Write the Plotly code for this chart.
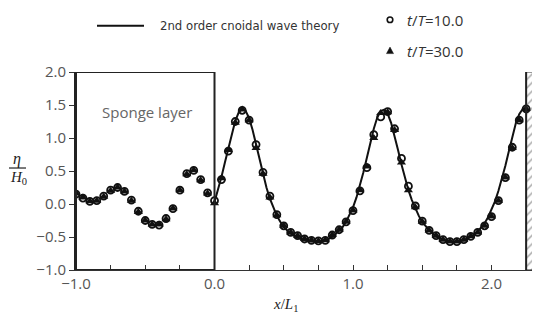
import plotly.graph_objects as go

# ---------------- data ----------------
x_obs = [-1.00, -0.95, -0.90, -0.85, -0.80, -0.75, -0.70, -0.65, -0.60, -0.55,
         -0.50, -0.45, -0.40, -0.35, -0.30, -0.25, -0.20, -0.15, -0.10, -0.05,
         0.00, 0.05, 0.10, 0.15, 0.20, 0.25, 0.30, 0.35, 0.40, 0.45,
         0.50, 0.55, 0.60, 0.65, 0.70, 0.75, 0.80, 0.85, 0.90, 0.95,
         1.00, 1.05, 1.10, 1.15, 1.20, 1.25, 1.30, 1.35, 1.40, 1.45,
         1.50, 1.55, 1.60, 1.65, 1.70, 1.75, 1.80, 1.85, 1.90, 1.95,
         2.00, 2.05, 2.10, 2.15, 2.20, 2.25]

eta_t10 = [0.15, 0.09, 0.04, 0.05, 0.12, 0.21, 0.25, 0.19, 0.06, -0.11,
           -0.25, -0.31, -0.32, -0.22, -0.07, 0.21, 0.46, 0.51, 0.37, 0.17,
           0.05, 0.37, 0.80, 1.25, 1.42, 1.27, 0.90, 0.48, 0.12, -0.16,
           -0.33, -0.43, -0.48, -0.53, -0.55, -0.56, -0.55, -0.47, -0.39, -0.27,
           -0.10, 0.20, 0.55, 1.05, 1.32, 1.40, 1.14, 0.69, 0.27, -0.03,
           -0.26, -0.40, -0.48, -0.54, -0.57, -0.57, -0.54, -0.49, -0.43, -0.33,
           -0.19, 0.05, 0.40, 0.86, 1.27, 1.44]

eta_t30 = [0.16, 0.10, 0.04, 0.05, 0.11, 0.20, 0.25, 0.19, 0.05, -0.12,
           -0.25, -0.31, -0.31, -0.23, -0.07, 0.21, 0.45, 0.51, 0.36, 0.16,
           0.01, 0.39, 0.82, 1.23, 1.43, 1.27, 0.85, 0.46, 0.10, -0.17,
           -0.33, -0.43, -0.48, -0.53, -0.55, -0.56, -0.55, -0.47, -0.39, -0.27,
           -0.10, 0.21, 0.57, 1.00, 1.38, 1.39, 1.12, 0.63, 0.21, -0.05,
           -0.27, -0.40, -0.48, -0.54, -0.57, -0.57, -0.54, -0.49, -0.43, -0.33,
           -0.19, 0.05, 0.40, 0.85, 1.27, 1.44]

x_theory = [0.000, 0.025, 0.050, 0.075, 0.100, 0.125, 0.150, 0.175, 0.200, 0.225,
            0.250, 0.275, 0.300, 0.325, 0.350, 0.375, 0.400, 0.425, 0.450, 0.475,
            0.500, 0.550, 0.600, 0.650, 0.700, 0.750, 0.800, 0.850, 0.900, 0.925,
            0.950, 0.975, 1.000, 1.025, 1.050, 1.075, 1.100, 1.125, 1.150, 1.175,
            1.200, 1.225, 1.250, 1.275, 1.300, 1.325, 1.350, 1.375, 1.400, 1.425,
            1.450, 1.475, 1.500, 1.525, 1.550, 1.600, 1.650, 1.700, 1.750, 1.800,
            1.850, 1.900, 1.925, 1.950, 1.975, 2.000, 2.025, 2.050, 2.075, 2.100,
            2.125, 2.150, 2.175, 2.200, 2.225, 2.250]
eta_theory = [0.03, 0.21, 0.41, 0.63, 0.85, 1.07, 1.26, 1.39, 1.44, 1.41,
              1.30, 1.12, 0.90, 0.67, 0.45, 0.25, 0.08, -0.06, -0.18, -0.27,
              -0.35, -0.45, -0.51, -0.55, -0.57, -0.57, -0.55, -0.50, -0.41, -0.35,
              -0.27, -0.17, -0.05, 0.10, 0.28, 0.48, 0.70, 0.93, 1.14, 1.31,
              1.41, 1.43, 1.37, 1.23, 1.04, 0.82, 0.60, 0.39, 0.21, 0.06,
              -0.07, -0.18, -0.27, -0.34, -0.40, -0.49, -0.54, -0.57, -0.57, -0.55,
              -0.50, -0.42, -0.36, -0.29, -0.20, -0.09, 0.04, 0.20, 0.38, 0.58,
              0.80, 1.02, 1.22, 1.36, 1.44, 1.46]

x_ticks = [-1.0, 0.0, 1.0, 2.0]
y_ticks = [-1.0, -0.5, 0.0, 0.5, 1.0, 1.5, 2.0]

sponge_x = [-1.0, 0.0]
wall_x = 2.25
x_range = [-1.0, 2.35]
y_range = [-1.0, 2.0]

# ---------------- figure ----------------
fig = go.Figure()

# wall (hatched)
fig.add_trace(go.Scatter(
    x=[wall_x, x_range[1], x_range[1], wall_x, wall_x],
    y=[y_range[0], y_range[0], y_range[1], y_range[1], y_range[0]],
    mode="lines", fill="toself", fillcolor="white",
    fillpattern=dict(shape="/", fgcolor="#555555", bgcolor="white", size=6, solidity=0.25),
    line=dict(color="#333333", width=1), hoverinfo="skip", showlegend=False))

fig.add_trace(go.Scatter(
    x=x_theory, y=eta_theory, mode="lines",
    line=dict(color="#111111", width=2),
    name="2nd order cnoidal wave theory", showlegend=False))

fig.add_trace(go.Scatter(
    x=x_obs, y=eta_t10, mode="markers",
    marker=dict(symbol="circle-open", size=7, color="#111111", line=dict(width=1.8)),
    name="t/T=10.0", showlegend=False))

fig.add_trace(go.Scatter(
    x=x_obs, y=eta_t30, mode="markers",
    marker=dict(symbol="triangle-up", size=8, color="#111111"),
    name="t/T=30.0", showlegend=False))

# page has an 8px body margin: the figure is drawn 8px right / 8px down
OFF = 8
W, H = 540 - OFF, 325 - 2 * OFF
L, R, T = 76 - OFF, 0, 71.5 - OFF
B = H - (270.5 - OFF)
pw, ph = W - L - R, H - T - B


def px(xp):
    return (xp - OFF - L) / pw


def py(yp):
    return (H - B - (yp - OFF)) / ph


shapes = [
    # sponge layer box
    dict(type="rect", xref="x", yref="y", x0=sponge_x[0], x1=sponge_x[1],
         y0=y_range[0], y1=y_range[1], line=dict(color="#222222", width=2)),
    # wall left edge
    dict(type="line", xref="x", yref="y", x0=wall_x, x1=wall_x,
         y0=y_range[0], y1=y_range[1], line=dict(color="#222222", width=2)),
    # legend line
    dict(type="line", xref="paper", yref="paper", x0=px(97), x1=px(144),
         y0=py(25), y1=py(25), line=dict(color="#111111", width=2)),
    # legend circle
    dict(type="circle", xref="paper", yref="paper", xsizemode="pixel", ysizemode="pixel",
         xanchor=px(390), yanchor=py(19), x0=-2.8, x1=2.8, y0=-2.8, y1=2.8,
         line=dict(color="#111111", width=1.6)),
    # legend triangle
    dict(type="path", xref="paper", yref="paper", xsizemode="pixel", ysizemode="pixel",
         xanchor=px(390), yanchor=py(50), path="M -3.5 -3 L 3.5 -3 L 0 3.5 Z",
         fillcolor="#111111", line=dict(color="#111111", width=0.5)),
    # y label fraction bar
    dict(type="line", xref="paper", yref="paper", x0=px(9), x1=px(26),
         y0=py(168), y1=py(168), line=dict(color="#222222", width=1.2)),
]

tick_font = dict(family="Open Sans, Liberation Sans, Arial", size=15, color="#555555")
serif = "Liberation Serif, DejaVu Serif, serif"

annotations = [
    dict(text="Sponge layer", xref="x", yref="y", x=-0.49, y=1.40, showarrow=False,
         font=dict(family="Open Sans, Liberation Sans, Arial", size=15, color="#666666")),
    dict(text="2nd order cnoidal wave theory", xref="paper", yref="paper",
         x=px(158), y=py(25), xanchor="left", yanchor="middle", showarrow=False,
         font=dict(family="Liberation Sans Narrow, Arial Narrow, DejaVu Sans Condensed, Liberation Sans",
                   size=13, color="#333333")),
    dict(text="<i>t</i>/<i>T</i>=10.0", xref="paper", yref="paper",
         x=px(405), y=py(19), xanchor="left", yanchor="middle", showarrow=False,
         font=dict(family="Open Sans, Liberation Sans, Arial", size=15, color="#333333")),
    dict(text="<i>t</i>/<i>T</i>=30.0", xref="paper", yref="paper",
         x=px(405), y=py(50), xanchor="left", yanchor="middle", showarrow=False,
         font=dict(family="Open Sans, Liberation Sans, Arial", size=15, color="#333333")),
    dict(text="<i>η</i>", xref="paper", yref="paper", x=px(17), y=py(159),
         xanchor="center", yanchor="middle", showarrow=False,
         font=dict(family=serif, size=16, color="#222222")),
    dict(text="<i>H</i><sub>0</sub>", xref="paper", yref="paper", x=px(18), y=py(178),
         xanchor="center", yanchor="middle", showarrow=False,
         font=dict(family=serif, size=15, color="#222222")),
    dict(text="<i>x</i>/<i>L</i><sub>1</sub>", xref="paper", yref="paper", x=px(285), y=py(306),
         xanchor="center", yanchor="middle", showarrow=False,
         font=dict(family=serif, size=15, color="#222222")),
]

fig.update_layout(
    width=W, height=H,
    margin=dict(l=L, r=R, t=T, b=B, pad=0, autoexpand=False),
    paper_bgcolor="white", plot_bgcolor="white",
    showlegend=False,
    shapes=shapes, annotations=annotations,
    xaxis=dict(range=x_range, tickvals=x_ticks, ticktext=["\u22121.0", "0.0", "1.0", "2.0"],
               automargin=False,
               ticks="inside", ticklen=5, tickcolor="#333333",
               minor=dict(dtick=0.25, tick0=0, ticks="inside", ticklen=5, tickcolor="#333333"),
               showline=True, linecolor="#333333", linewidth=1,
               showgrid=False, zeroline=False, tickfont=tick_font),
    yaxis=dict(range=y_range, tickvals=y_ticks,
               ticktext=["\u22121.0", "\u22120.5", "0.0", "0.5", "1.0", "1.5", "2.0"],
               automargin=False,
               ticks="outside", ticklen=5, tickcolor="#333333",
               showline=True, linecolor="#222222", linewidth=2,
               showgrid=False, zeroline=False, tickfont=tick_font),
)

fig.write_html("out.html")
